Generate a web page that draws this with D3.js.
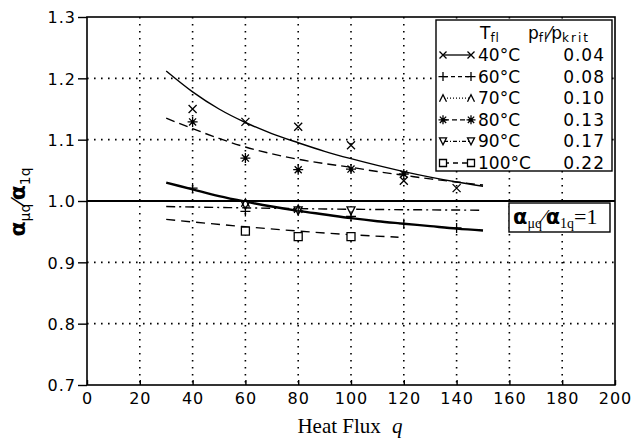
<!DOCTYPE html>
<html>
<head>
<meta charset="utf-8">
<script src="https://cdn.jsdelivr.net/npm/d3@7"></script>
<style>
body { margin: 0; background: #fff; }
svg { display: block; }
</style>
</head>
<body>
<svg id="chart" width="634" height="444"></svg>
<script>
// measured points (heat flux q, ratio)
var qPts = [40, 60, 80, 100, 120, 140];
var pts40 = [1.150, 1.129, 1.121, 1.091, 1.033, 1.021];
var pts60 = [1.021, 0.983, 0.984, 0.975, 0.963, 0.956];
var pts70 = [null, 0.997, 0.987, null, null, null];
var pts80 = [1.129, 1.070, 1.051, 1.052, 1.044, null];
var pts90 = [null, 0.993, 0.984, 0.984, null, null];
var pts100 = [null, 0.951, 0.942, 0.942, null, null];

// fitted curves
var qCurve = [30, 40, 50, 60, 70, 80, 90, 100, 110, 120, 130, 140, 150];
var fit40 = [1.212, 1.178, 1.150, 1.128, 1.110, 1.095, 1.081, 1.069, 1.058, 1.048, 1.039, 1.031, 1.024];
var fit80 = [1.135, 1.118, 1.102, 1.088, 1.077, 1.068, 1.061, 1.055, 1.048, 1.042, 1.036, 1.031, 1.026];
var fit60 = [1.030, 1.019, 1.008, 0.999, 0.991, 0.984, 0.978, 0.972, 0.967, 0.963, 0.959, 0.955, 0.952];
var q90 = [30, 90, 150];
var fit90 = [0.991, 0.987, 0.985];
var q100 = [30, 60, 80, 100, 118];
var fit100 = [0.970, 0.958, 0.951, 0.945, 0.941];

var xTicks = [0, 20, 40, 60, 80, 100, 120, 140, 160, 180, 200];
var yTicks = [0.7, 0.8, 0.9, 1.0, 1.1, 1.2, 1.3];

var legendRows = [
	{ sym: "x", dash: null, t: "40°C", p: "0.04" },
	{ sym: "+", dash: "4,3", t: "60°C", p: "0.08" },
	{ sym: "^", dash: "1,2", t: "70°C", p: "0.10" },
	{ sym: "*", dash: "5,3", t: "80°C", p: "0.13" },
	{ sym: "v", dash: "4,2,1,2", t: "90°C", p: "0.17" },
	{ sym: "s", dash: "5,4", t: "100°C", p: "0.22" }
];

var svg = d3.select("#chart");
var x = d3.scaleLinear().domain([0, 200]).range([87, 615]);
var y = d3.scaleLinear().domain([0.7, 1.3]).range([385, 17]);
var tickFont = "DejaVu Sans";

// dotted grid
var grid = svg.append("g").attr("class", "grid");
grid.selectAll(".gx")
	.data(xTicks.slice(1, -1))
	.enter().append("line")
	.attr("x1", d => x(d)).attr("x2", d => x(d))
	.attr("y1", y(1.3)).attr("y2", y(0.7))
	.attr("stroke", "#000").attr("stroke-width", 1.6)
	.attr("stroke-dasharray", "1.6,5.4");
grid.selectAll(".gy")
	.data(yTicks.filter(d => d != 0.7 && d != 1.3 && d != 1.0))
	.enter().append("line")
	.attr("x1", x(0)).attr("x2", x(200))
	.attr("y1", d => y(d)).attr("y2", d => y(d))
	.attr("stroke", "#000").attr("stroke-width", 1.6)
	.attr("stroke-dasharray", "1.6,5.4");

// frame
svg.append("rect")
	.attr("x", x(0)).attr("y", y(1.3))
	.attr("width", x(200) - x(0)).attr("height", y(0.7) - y(1.3))
	.attr("fill", "none").attr("stroke", "#000").attr("stroke-width", 1.6);

// ratio = 1 line
svg.append("line")
	.attr("x1", x(0)).attr("x2", x(200))
	.attr("y1", y(1.0)).attr("y2", y(1.0))
	.attr("stroke", "#000").attr("stroke-width", 2.2);

// axes
var yAxis = d3.axisLeft(y).tickValues(yTicks).tickSize(9).tickFormat(d3.format(".1f"));
var xAxis = d3.axisBottom(x).tickValues(xTicks).tickSize(-5).tickFormat(d3.format("d"));
var gy = svg.append("g").attr("transform", `translate(${x(0)},0)`).call(yAxis);
var gx = svg.append("g").attr("transform", `translate(0,${y(0.7)})`).call(xAxis);
[gx, gy].forEach(g => {
	g.select(".domain").remove();
	g.selectAll(".tick line").attr("stroke", "#000").attr("stroke-width", 1.4);
	g.selectAll(".tick text")
		.attr("font-family", tickFont)
		.attr("font-size", "16px")
		.attr("letter-spacing", "1px")
		.attr("fill", "#000");
});
gy.selectAll(".tick text").attr("x", -11).attr("dy", "0.36em");
gx.selectAll(".tick text").attr("y", 8).attr("dy", "0.71em");

// axis titles
svg.append("text")
	.attr("x", 350).attr("y", 433)
	.attr("text-anchor", "middle")
	.attr("font-family", "Liberation Serif")
	.attr("font-size", "21px")
	.html('Heat Flux <tspan font-style="italic" dx="6">q</tspan>');

var ylab = svg.append("text")
	.attr("transform", "translate(25,202) rotate(-90)")
	.attr("text-anchor", "middle")
	.attr("font-family", "DejaVu Sans")
	.attr("font-size", "22px");
ylab.append("tspan").attr("font-weight", "bold").text("α");
ylab.append("tspan").attr("font-size", "14px").attr("dy", 5).text("μq");
ylab.append("tspan").attr("font-size", "20px").attr("dy", -5).text("⁄");
ylab.append("tspan").attr("font-weight", "bold").text("α");
ylab.append("tspan").attr("font-size", "14px").attr("dy", 5).text("1q");

// markers
function marker(g, sym, cx, cy, r) {
	r = r || 4;
	var p = d3.path();
	if (sym == "x") {
		p.moveTo(cx - r, cy - r); p.lineTo(cx + r, cy + r);
		p.moveTo(cx - r, cy + r); p.lineTo(cx + r, cy - r);
	} else if (sym == "+") {
		p.moveTo(cx - r - 1, cy); p.lineTo(cx + r + 1, cy);
		p.moveTo(cx, cy - r - 1); p.lineTo(cx, cy + r + 1);
	} else if (sym == "*") {
		let ra = r + 1;
		for (let a = 0; a < 4; a++) {
			let t = a * Math.PI / 4;
			p.moveTo(cx - ra * Math.cos(t), cy - ra * Math.sin(t));
			p.lineTo(cx + ra * Math.cos(t), cy + ra * Math.sin(t));
		}
	} else if (sym == "^") {
		p.moveTo(cx - r, cy + r); p.lineTo(cx, cy - r); p.lineTo(cx + r, cy + r);
	} else if (sym == "v") {
		p.moveTo(cx - r, cy - r); p.lineTo(cx + r, cy - r); p.lineTo(cx, cy + r); p.closePath();
	} else if (sym == "s") {
		p.rect(cx - r, cy - r, 2 * r, 2 * r);
	}
	var el = g.append("path").attr("d", p.toString())
		.attr("fill", sym == "v" || sym == "s" ? "#fff" : "none")
		.attr("stroke", "#000")
		.attr("stroke-width", 1.3);
	if (sym == "*")
		g.append("circle").attr("cx", cx).attr("cy", cy).attr("r", r * 0.45).attr("fill", "#000");
}

var line = d3.line().x(d => x(d[0])).y(d => y(d[1])).curve(d3.curveMonotoneX);
var curves = [
	{ q: qCurve, v: fit40, dash: null, w: 1.4 },
	{ q: qCurve, v: fit80, dash: "9,5", w: 1.4 },
	{ q: qCurve, v: fit60, dash: null, w: 2.4 },
	{ q: q90, v: fit90, dash: "9,4,2,4", w: 1.4 },
	{ q: q100, v: fit100, dash: "9,6", w: 1.4 }
];
var gc = svg.append("g").attr("class", "curves");
curves.forEach(c => {
	gc.append("path")
		.datum(c.q.map((q, i) => [q, c.v[i]]))
		.attr("d", line)
		.attr("fill", "none")
		.attr("stroke", "#000")
		.attr("stroke-width", c.w)
		.attr("stroke-dasharray", c.dash);
});

var series = [
	{ sym: "s", v: pts100 },
	{ sym: "v", v: pts90 },
	{ sym: "^", v: pts70 },
	{ sym: "+", v: pts60 },
	{ sym: "*", v: pts80 },
	{ sym: "x", v: pts40 }
];
var gm = svg.append("g").attr("class", "markers");
series.forEach(s => {
	s.v.forEach((v, i) => {
		if (v != null) marker(gm, s.sym, x(qPts[i]), y(v), 4);
	});
});

// legend
var lg = svg.append("g").attr("class", "legend");
lg.append("rect")
	.attr("x", 436).attr("y", 20).attr("width", 176).attr("height", 151)
	.attr("fill", "#fff").attr("stroke", "#000").attr("stroke-width", 1.4);
var head = lg.append("text").attr("y", 39).attr("font-family", tickFont).attr("font-size", "17px");
head.append("tspan").attr("x", 480).text("T");
head.append("tspan").attr("font-size", "12px").attr("dy", 3).attr("letter-spacing", "1px").text("fl");
head.append("tspan").attr("x", 528).attr("dy", -3).text("p");
head.append("tspan").attr("font-size", "12px").attr("dy", 3).attr("letter-spacing", "1px").text("fl");
head.append("tspan").attr("dy", -3).text("⁄p");
head.append("tspan").attr("font-size", "12px").attr("dy", 3).attr("letter-spacing", "2px").text("krit");

legendRows.forEach((r, i) => {
	let cy = 55 + i * 21.6;
	lg.append("line")
		.attr("x1", 444).attr("x2", 470).attr("y1", cy).attr("y2", cy)
		.attr("stroke", "#000").attr("stroke-width", 1.3)
		.attr("stroke-dasharray", r.dash);
	marker(lg, r.sym, 443, cy, 3.5);
	marker(lg, r.sym, 471, cy, 3.5);
	lg.append("text").attr("x", 478).attr("y", cy + 6)
		.attr("font-family", tickFont).attr("font-size", "17px").text(r.t);
	lg.append("text").attr("x", 605).attr("y", cy + 6)
		.attr("text-anchor", "end").attr("letter-spacing", "1px")
		.attr("font-family", tickFont).attr("font-size", "17px").text(r.p);
});

// ratio label box
var bx = svg.append("g");
bx.append("rect")
	.attr("x", 509).attr("y", 203).attr("width", 101).attr("height", 29)
	.attr("fill", "#fff").attr("stroke", "#000").attr("stroke-width", 1.4);
var bt = bx.append("text").attr("x", 513).attr("y", 224)
	.attr("font-family", "Liberation Serif").attr("font-size", "22px");
bt.append("tspan").attr("font-family", "DejaVu Sans").attr("font-weight", "bold").attr("font-size", "21px").text("α");
bt.append("tspan").attr("font-size", "14px").attr("dy", 4).text("μq");
bt.append("tspan").attr("dy", -4).text("⁄");
bt.append("tspan").attr("font-family", "DejaVu Sans").attr("font-weight", "bold").attr("font-size", "21px").text("α");
bt.append("tspan").attr("font-size", "14px").attr("dy", 4).text("1q");
bt.append("tspan").attr("dy", -4).text("=1");
</script>
</body>
</html>
